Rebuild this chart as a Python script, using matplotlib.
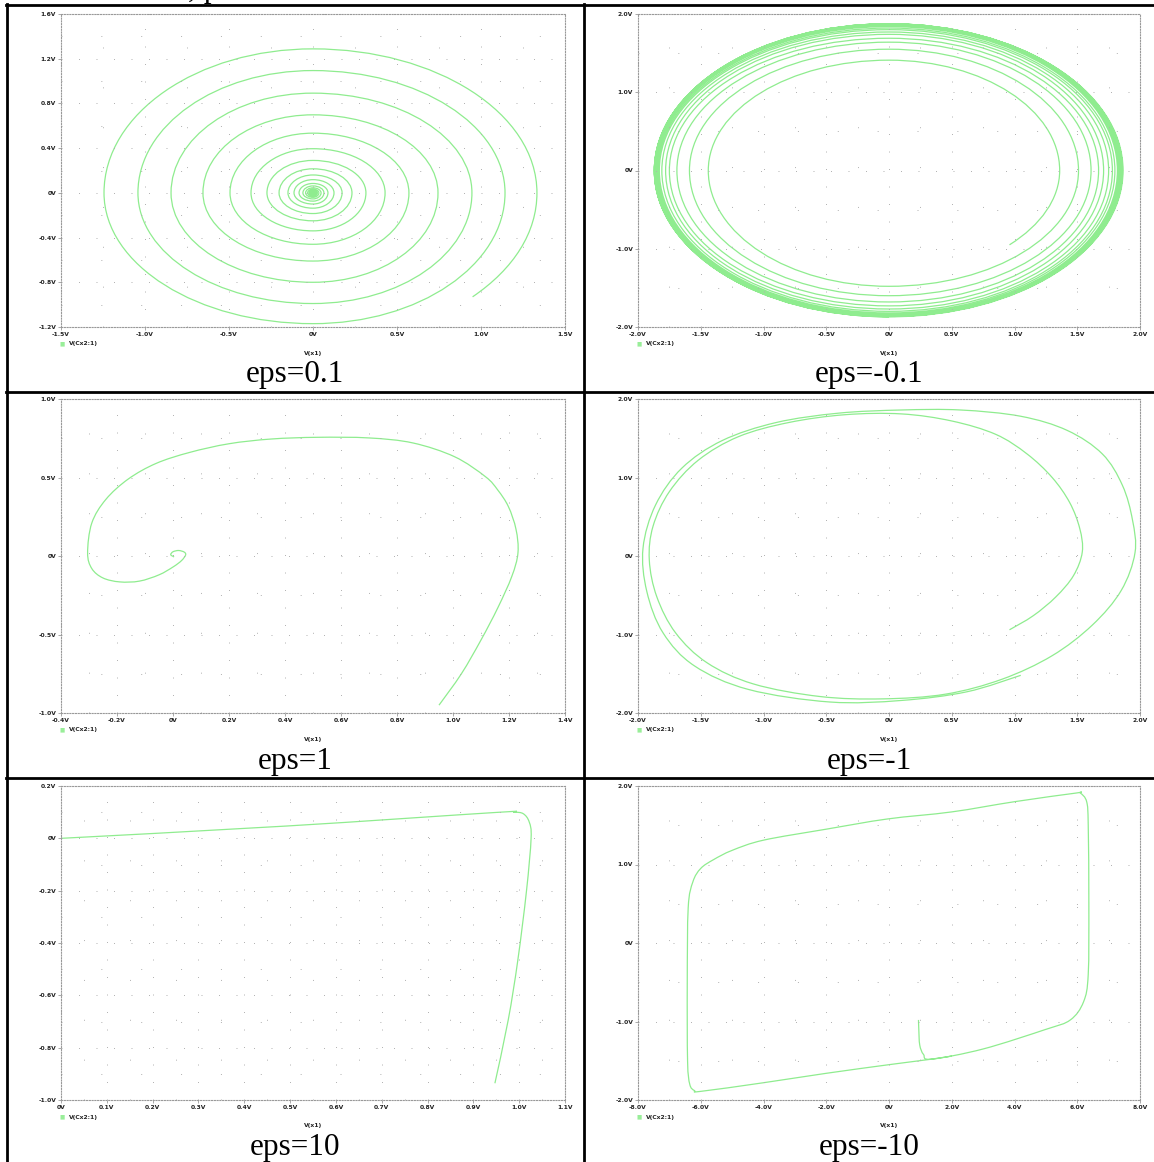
import numpy as np
import matplotlib
matplotlib.use('Agg')
import matplotlib.pyplot as plt
from matplotlib.path import Path
from matplotlib.patches import PathPatch
from matplotlib.lines import Line2D
from matplotlib.ticker import MultipleLocator

# ---- data ----
# eps=0.1 : axis crossings of the inward spiral, in turn order
eps01_start = (0.95, -0.93)
eps01_right = [1.333, 1.143, 0.946, 0.744, 0.571, 0.429, 0.315, 0.232, 0.173, 0.125, 0.089, 0.065, 0.048, 0.035, 0.026, 0.019, 0.014, 0.010, 0.007]
eps01_top = [1.288, 1.094, 0.892, 0.698, 0.534, 0.395, 0.29, 0.215, 0.16, 0.118, 0.084, 0.062, 0.045, 0.033, 0.024, 0.017, 0.012, 0.009, 0.006]
eps01_left = [1.244, 1.042, 0.845, 0.655, 0.494, 0.369, 0.274, 0.202, 0.149, 0.113, 0.083, 0.060, 0.044, 0.032, 0.023, 0.017, 0.012, 0.008, 0.005]
eps01_bottom = [1.17, 0.99, 0.80, 0.61, 0.46, 0.34, 0.25, 0.185, 0.137, 0.10, 0.074, 0.054, 0.04, 0.029, 0.021, 0.015, 0.011, 0.007, 0.004]

# eps=-0.1 : outward spiral onto the limit cycle
epsm01_start = (0.96, -0.95)
epsm01_right = [1.36, 1.51, 1.61, 1.67, 1.71, 1.75, 1.78, 1.80, 1.82, 1.83, 1.84, 1.845, 1.85, 1.855, 1.86, 1.86, 1.865, 1.865]
epsm01_top = [1.41, 1.55, 1.64, 1.69, 1.74, 1.77, 1.80, 1.82, 1.84, 1.85, 1.86, 1.865, 1.87, 1.87, 1.875, 1.875, 1.875, 1.875]
epsm01_left = [1.44, 1.59, 1.69, 1.75, 1.78, 1.81, 1.83, 1.84, 1.85, 1.855, 1.86, 1.86, 1.865, 1.865, 1.87, 1.87, 1.87]
epsm01_bottom = [1.48, 1.60, 1.68, 1.73, 1.77, 1.80, 1.82, 1.835, 1.845, 1.85, 1.855, 1.86, 1.86, 1.865, 1.865, 1.87, 1.87]

# eps=1
eps1_x = [0.95, 1.03, 1.10, 1.16, 1.21, 1.232, 1.225, 1.198, 1.16, 1.116, 1.006, 0.857, 0.70, 0.515, 0.35, 0.20, 0.06, -0.06, -0.16, -0.24, -0.29, -0.305, -0.29, -0.25, -0.19, -0.12, -0.05, 0.0, 0.03, 0.045, 0.04, 0.02, 0.0, -0.008, 0.004]
eps1_y = [-0.95, -0.75, -0.535, -0.33, -0.13, 0.02, 0.17, 0.314, 0.42, 0.505, 0.632, 0.72, 0.752, 0.756, 0.745, 0.715, 0.66, 0.59, 0.49, 0.36, 0.21, 0.02, -0.08, -0.14, -0.165, -0.16, -0.12, -0.07, -0.03, 0.006, 0.025, 0.035, 0.027, 0.008, -0.006]

# eps=-1 : first loop (inside), then one turn on the limit cycle
epsm1_x = [0.96, 1.15, 1.33, 1.47, 1.54, 1.52, 1.44, 1.30, 1.10, 0.85, 0.50, 0.10, -0.35, -0.80, -1.20, -1.52, -1.75, -1.88, -1.91, -1.85, -1.70, -1.45, -1.08, -0.55, -0.05, 0.45, 0.90, 1.30, 1.62, 1.85, 1.96,
           1.94, 1.86, 1.70, 1.42, 1.05, 0.57, 0.10, -0.40, -0.90, -1.33, -1.65, -1.86, -1.96, -1.93, -1.80, -1.55, -1.12, -0.47, 0.10, 0.62, 1.05]
epsm1_y = [-0.94, -0.76, -0.52, -0.25, 0.05, 0.35, 0.68, 1.00, 1.30, 1.55, 1.72, 1.81, 1.80, 1.70, 1.52, 1.22, 0.82, 0.38, -0.05, -0.52, -0.98, -1.36, -1.63, -1.79, -1.82, -1.76, -1.57, -1.27, -0.88, -0.44, 0.04,
           0.46, 0.90, 1.30, 1.60, 1.78, 1.86, 1.86, 1.82, 1.70, 1.47, 1.12, 0.65, 0.10, -0.45, -0.98, -1.40, -1.70, -1.86, -1.84, -1.73, -1.52]

# eps=10
eps10_x = [0.947, 0.976, 0.997, 1.016, 1.026, 1.022, 1.009, 0.988, 0.95, 0.492, 0.0]
eps10_y = [-0.936, -0.695, -0.466, -0.20, 0.0, 0.062, 0.094, 0.10, 0.099, 0.047, 0.0]

# eps=-10
epsm10_x = [0.94, 0.95, 0.98, 1.10, 1.35, 3.0, 5.0, 5.78, 6.2, 6.35, 6.37, 6.35, 6.3, 6.1, 5.96, 4.0, 2.0, -0.05, -2.0, -4.0, -5.0, -5.6, -6.0, -6.25, -6.4, -6.43, -6.42, -6.35, -6.2, -6.0, -4.0, -2.0, 0.0, 1.35, 2.0]
epsm10_y = [-0.98, -1.10, -1.30, -1.42, -1.48, -1.35, -1.10, -0.98, -0.75, -0.40, 0.50, 1.50, 1.80, 1.91, 1.91, 1.80, 1.67, 1.58, 1.45, 1.31, 1.18, 1.06, 0.95, 0.78, 0.45, -0.50, -1.50, -1.80, -1.88, -1.89, -1.78, -1.66, -1.55, -1.48, -1.44]

captions = ['eps=0.1', 'eps=-0.1', 'eps=1', 'eps=-1', 'eps=10', 'eps=-10']

W, H = 1154, 1162
fig = plt.figure(figsize=(W / 100, H / 100), dpi=100)
green = '#33dd33'

def px_axes(x0, y0, x1, y1):
    return fig.add_axes([x0 / W, 1 - y1 / H, (x1 - x0) / W, (y1 - y0) / H])

def vlabel(v):
    if abs(v) < 1e-9:
        return '0V'
    return '%.1fV' % v

def style_axes(ax, xlim, ylim, xstep, ystep):
    ax.xaxis.set_major_locator(MultipleLocator(xstep))
    ax.yaxis.set_major_locator(MultipleLocator(ystep))
    ax.xaxis.set_minor_locator(MultipleLocator(xstep / 2))
    ax.yaxis.set_minor_locator(MultipleLocator(ystep / 2))
    ax.set_xlim(*xlim)
    ax.set_ylim(*ylim)
    xt = [v for v in ax.get_xticks() if xlim[0] - 1e-9 <= v <= xlim[1] + 1e-9]
    yt = [v for v in ax.get_yticks() if ylim[0] - 1e-9 <= v <= ylim[1] + 1e-9]
    ax.set_xticks(xt)
    ax.set_yticks(yt)
    ax.set_xticklabels([vlabel(v) for v in xt])
    ax.set_yticklabels([vlabel(v) for v in yt])
    ax.set_xlim(*xlim)
    ax.set_ylim(*ylim)
    for lab in ax.get_xticklabels() + ax.get_yticklabels():
        lab.set_fontfamily('DejaVu Sans')
        lab.set_fontweight('bold')
        lab.set_fontsize(4.3)
        lab.set_color('#222222')
    ax.tick_params(which='major', length=2, width=0.5, color='#888888', pad=1.5)
    ax.tick_params(which='minor', length=0)
    ax.grid(which='major', color='#b0b0b0', lw=0.7, linestyle=(0, (1, 17)))
    ax.grid(which='minor', color='#b0b0b0', lw=0.7, linestyle=(0, (1, 40)))
    for sp in ax.spines.values():
        sp.set_linestyle((0, (1, 1.5)))
        sp.set_color('#999999')
        sp.set_linewidth(0.8)

def curve(ax, xs, ys):
    pts = np.column_stack([xs, ys]).astype(float)
    n = len(pts)
    verts = [pts[0]]
    codes = [Path.MOVETO]
    for i in range(n - 1):
        p0 = pts[i - 1] if i > 0 else pts[i]
        p1, p2 = pts[i], pts[i + 1]
        p3 = pts[i + 2] if i + 2 < n else p2
        verts += [p1 + (p2 - p0) / 6.0, p2 - (p3 - p1) / 6.0, p2]
        codes += [Path.CURVE4] * 3
    ax.add_patch(PathPatch(Path(verts, codes), fill=False, edgecolor=green, lw=0.9, alpha=0.55))

def spiral(ax, start, right, top, left, bottom):
    k = 0.5523
    pts = []
    for r, t, l, b in zip(right, top, left, bottom):
        pts += [(r, 0.0), (0.0, t), (-l, 0.0), (0.0, -b)]
    pts = np.array(pts)
    s = np.array(start, float)
    q = pts[0]
    rad = np.hypot(*s)
    h = 0.265 * rad
    tang = np.array([-s[1], s[0]]) / rad
    verts = [s, s + tang * h, (q[0], -h), q]
    codes = [Path.MOVETO] + [Path.CURVE4] * 3
    for i in range(len(pts) - 1):
        p, q = pts[i], pts[i + 1]
        if p[1] == 0.0:
            c1 = (p[0], k * q[1])
            c2 = (k * p[0], q[1])
        else:
            c1 = (k * q[0], p[1])
            c2 = (q[0], k * p[1])
        verts += [c1, c2, q]
        codes += [Path.CURVE4] * 3
    ax.add_patch(PathPatch(Path(verts, codes), fill=False, edgecolor=green, lw=0.9, alpha=0.55))

# panel rectangles in pixels
rects = [(61, 14, 565, 327), (638, 14, 1140, 327),
         (61, 399, 565, 713), (638, 399, 1140, 713),
         (61, 786, 565, 1100), (638, 786, 1140, 1100)]
axs = [px_axes(*r) for r in rects]

style_axes(axs[0], (-1.5, 1.5), (-1.2, 1.6), 0.5, 0.4)
spiral(axs[0], eps01_start, eps01_right, eps01_top, eps01_left, eps01_bottom)

style_axes(axs[1], (-2, 2), (-2, 2), 0.5, 1.0)
spiral(axs[1], epsm01_start, epsm01_right, epsm01_top, epsm01_left, epsm01_bottom)

style_axes(axs[2], (-0.4, 1.4), (-1, 1), 0.2, 0.5)
curve(axs[2], eps1_x, eps1_y)

style_axes(axs[3], (-2, 2), (-2, 2), 0.5, 1.0)
curve(axs[3], epsm1_x, epsm1_y)

style_axes(axs[4], (0, 1.1), (-1, 0.2), 0.1, 0.2)
curve(axs[4], eps10_x, eps10_y)

style_axes(axs[5], (-8, 8), (-2, 2), 2.0, 1.0)
curve(axs[5], epsm10_x, epsm10_y)

# legend marker, x label and caption under every plot
for i, (x0, y0, x1, y1) in enumerate(rects):
    fig.text((x0 + 1) / W, 1 - (y1 + 17) / H, '\u25a0', color='#99ee99', fontsize=4, ha='center', va='center')
    fig.text((x0 + 8) / W, 1 - (y1 + 17) / H, 'V(Cx2:1)', fontsize=4.3, fontweight='bold',
             color='#222222', ha='left', va='center')
    fig.text((x0 + x1) / 2 / W, 1 - (y1 + 26) / H, 'V(x1)', fontsize=4.3, fontweight='bold',
             color='#222222', ha='center', va='center')
    cx = 295 if i % 2 == 0 else 869
    fig.text(cx / W, 1 - (y1 + 48) / H, captions[i], fontsize=22.5, family='Liberation Serif',
             ha='center', va='center')

# the tail of a text line that the reference shows cut off above the table
fig.text(188 / W, 1 + 3 / H, ', p', fontsize=22.5, family='Liberation Serif', ha='left', va='baseline')

# table rules
for y in (5, 392, 778):
    fig.add_artist(Line2D([6 / W, 1], [1 - y / H] * 2, transform=fig.transFigure, color='k', lw=2))
for x in (7, 584):
    fig.add_artist(Line2D([x / W] * 2, [0, 1 - 4 / H], transform=fig.transFigure, color='k', lw=2))

fig.savefig('out.png', dpi=100)
